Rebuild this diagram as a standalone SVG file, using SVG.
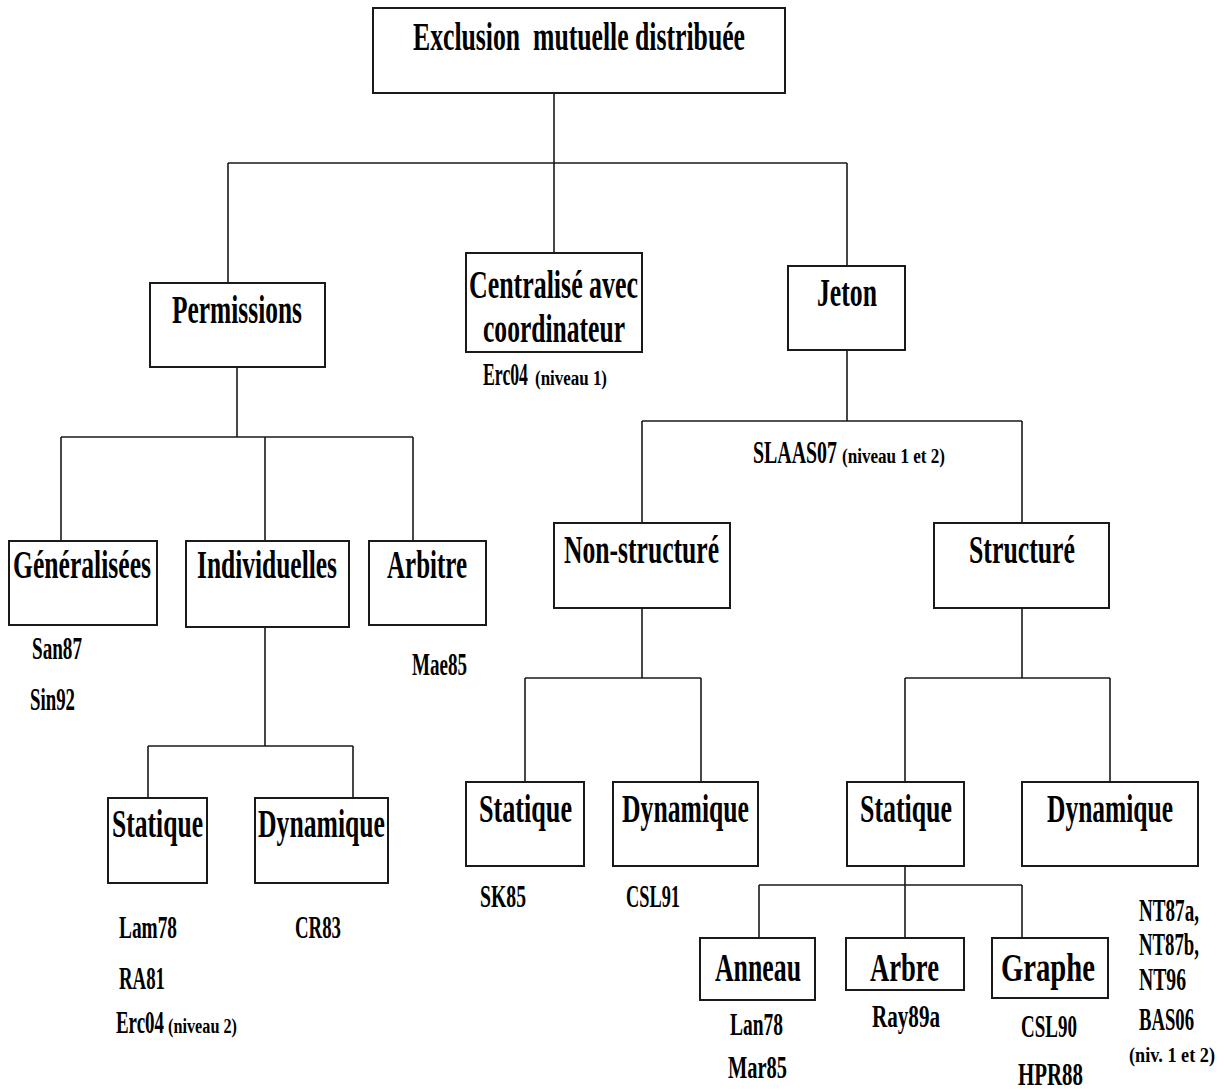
<svg xmlns="http://www.w3.org/2000/svg" width="1224" height="1090" viewBox="0 0 1224 1090">
<style>
.box{fill:#fff;stroke:#1a1a1a;stroke-width:2}
.ln{fill:none;stroke:#1a1a1a;stroke-width:1.6}
text{font-family:"Liberation Serif","Times New Roman",serif;font-weight:bold;fill:#000;white-space:pre}
.t{font-size:25.6px}
.r{font-size:19.3px}
.s{font-size:17px}
</style>
<rect width="1224" height="1090" fill="#fff"/>
<g id="connectors">
<path class="ln" d="M554,93V163M228,163H847M228,163V283M554,163V253M847,163V266"/>
<path class="ln" d="M237,367V437M61,437H413M61,437V541M265,437V541M413,437V541"/>
<path class="ln" d="M265,627V746M148,746H353M148,746V798M353,746V798"/>
<path class="ln" d="M847,350V421M642,421H1022M642,421V523M1022,421V523"/>
<path class="ln" d="M642,608V678M525,678H701M525,678V782M701,678V782"/>
<path class="ln" d="M1022,608V678M905,678H1110M905,678V782M1110,678V782"/>
<path class="ln" d="M905,866V938M759,885H1022M759,885V938M1022,885V938"/>
</g>
<g id="root"><rect class="box" x="373" y="8" width="412" height="85"/><text class="t" transform="translate(413,50) scale(1,1.53)" textLength="332" lengthAdjust="spacingAndGlyphs">Exclusion  mutuelle distribuée</text></g>
<g id="permissions"><rect class="box" x="150" y="283" width="175" height="84"/><text class="t" transform="translate(172,323) scale(1,1.53)" textLength="130" lengthAdjust="spacingAndGlyphs">Permissions</text></g>
<g id="centralise"><rect class="box" x="466" y="253" width="176" height="99"/><text class="t" transform="translate(469,298) scale(1,1.53)" textLength="169" lengthAdjust="spacingAndGlyphs">Centralisé avec</text><text class="t" transform="translate(483,342) scale(1,1.53)" textLength="142" lengthAdjust="spacingAndGlyphs">coordinateur</text>
<text class="r" transform="translate(483,385) scale(1,1.65)" textLength="45" lengthAdjust="spacingAndGlyphs">Erc04</text><text class="s" transform="translate(535,385) scale(1,1.25)" textLength="72" lengthAdjust="spacingAndGlyphs">(niveau 1)</text></g>
<g id="jeton"><rect class="box" x="788" y="266" width="117" height="84"/><text class="t" transform="translate(817,306) scale(1,1.53)" textLength="60" lengthAdjust="spacingAndGlyphs">Jeton</text>
<text class="r" transform="translate(753,463) scale(1,1.65)" textLength="84" lengthAdjust="spacingAndGlyphs">SLAAS07</text><text class="s" transform="translate(842,463) scale(1,1.25)" textLength="103" lengthAdjust="spacingAndGlyphs">(niveau 1 et 2)</text></g>
<g id="generalisees"><rect class="box" x="9" y="541" width="148" height="84"/><text class="t" transform="translate(13,578) scale(1,1.53)" textLength="138" lengthAdjust="spacingAndGlyphs">Généralisées</text>
<text class="r" transform="translate(32,659) scale(1,1.65)" textLength="50" lengthAdjust="spacingAndGlyphs">San87</text><text class="r" transform="translate(30,710) scale(1,1.65)" textLength="45" lengthAdjust="spacingAndGlyphs">Sin92</text></g>
<g id="individuelles"><rect class="box" x="186" y="541" width="163" height="86"/><text class="t" transform="translate(197,578) scale(1,1.53)" textLength="140" lengthAdjust="spacingAndGlyphs">Individuelles</text></g>
<g id="arbitre"><rect class="box" x="369" y="541" width="117" height="84"/><text class="t" transform="translate(387,578) scale(1,1.53)" textLength="80" lengthAdjust="spacingAndGlyphs">Arbitre</text>
<text class="r" transform="translate(412,675) scale(1,1.65)" textLength="55" lengthAdjust="spacingAndGlyphs">Mae85</text></g>
<g id="statique-ind"><rect class="box" x="108" y="798" width="99" height="85"/><text class="t" transform="translate(112,837) scale(1,1.53)" textLength="91" lengthAdjust="spacingAndGlyphs">Statique</text>
<text class="r" transform="translate(119,938) scale(1,1.65)" textLength="58" lengthAdjust="spacingAndGlyphs">Lam78</text><text class="r" transform="translate(119,989) scale(1,1.65)" textLength="46" lengthAdjust="spacingAndGlyphs">RA81</text>
<text class="r" transform="translate(116,1033) scale(1,1.65)" textLength="48" lengthAdjust="spacingAndGlyphs">Erc04</text><text class="s" transform="translate(168,1033) scale(1,1.25)" textLength="69" lengthAdjust="spacingAndGlyphs">(niveau 2)</text></g>
<g id="dynamique-ind"><rect class="box" x="255" y="798" width="133" height="85"/><text class="t" transform="translate(258,837) scale(1,1.53)" textLength="127" lengthAdjust="spacingAndGlyphs">Dynamique</text>
<text class="r" transform="translate(295,938) scale(1,1.65)" textLength="46" lengthAdjust="spacingAndGlyphs">CR83</text></g>
<g id="non-structure"><rect class="box" x="554" y="523" width="176" height="85"/><text class="t" transform="translate(564,563) scale(1,1.53)" textLength="155" lengthAdjust="spacingAndGlyphs">Non-structuré</text></g>
<g id="structure"><rect class="box" x="934" y="523" width="175" height="85"/><text class="t" transform="translate(969,563) scale(1,1.53)" textLength="106" lengthAdjust="spacingAndGlyphs">Structuré</text></g>
<g id="statique-ns"><rect class="box" x="466" y="782" width="118" height="84"/><text class="t" transform="translate(479,822) scale(1,1.53)" textLength="93" lengthAdjust="spacingAndGlyphs">Statique</text>
<text class="r" transform="translate(480,907) scale(1,1.65)" textLength="46" lengthAdjust="spacingAndGlyphs">SK85</text></g>
<g id="dynamique-ns"><rect class="box" x="613" y="782" width="145" height="84"/><text class="t" transform="translate(622,822) scale(1,1.53)" textLength="127" lengthAdjust="spacingAndGlyphs">Dynamique</text>
<text class="r" transform="translate(626,907) scale(1,1.65)" textLength="54" lengthAdjust="spacingAndGlyphs">CSL91</text></g>
<g id="statique-s"><rect class="box" x="847" y="782" width="117" height="84"/><text class="t" transform="translate(860,822) scale(1,1.53)" textLength="92" lengthAdjust="spacingAndGlyphs">Statique</text></g>
<g id="dynamique-s"><rect class="box" x="1022" y="782" width="176" height="84"/><text class="t" transform="translate(1047,822) scale(1,1.53)" textLength="126" lengthAdjust="spacingAndGlyphs">Dynamique</text>
<text class="r" transform="translate(1139,921) scale(1,1.65)" textLength="60" lengthAdjust="spacingAndGlyphs">NT87a,</text><text class="r" transform="translate(1139,955) scale(1,1.65)" textLength="60" lengthAdjust="spacingAndGlyphs">NT87b,</text>
<text class="r" transform="translate(1139,990) scale(1,1.65)" textLength="47" lengthAdjust="spacingAndGlyphs">NT96</text><text class="r" transform="translate(1139,1030) scale(1,1.65)" textLength="55" lengthAdjust="spacingAndGlyphs">BAS06</text>
<text class="s" transform="translate(1129,1062) scale(1,1.25)" textLength="86" lengthAdjust="spacingAndGlyphs">(niv. 1 et 2)</text></g>
<g id="anneau"><rect class="box" x="700" y="938" width="115" height="62"/><text class="t" transform="translate(715,981) scale(1,1.53)" textLength="86" lengthAdjust="spacingAndGlyphs">Anneau</text>
<text class="r" transform="translate(730,1035) scale(1,1.65)" textLength="53" lengthAdjust="spacingAndGlyphs">Lan78</text><text class="r" transform="translate(728,1078) scale(1,1.65)" textLength="59" lengthAdjust="spacingAndGlyphs">Mar85</text></g>
<g id="arbre"><rect class="box" x="846" y="938" width="118" height="52"/><text class="t" transform="translate(870,981) scale(1,1.53)" textLength="69" lengthAdjust="spacingAndGlyphs">Arbre</text>
<text class="r" transform="translate(872,1027) scale(1,1.65)" textLength="68" lengthAdjust="spacingAndGlyphs">Ray89a</text></g>
<g id="graphe"><rect class="box" x="992" y="938" width="116" height="60"/><text class="t" transform="translate(1001,981) scale(1,1.53)" textLength="94" lengthAdjust="spacingAndGlyphs">Graphe</text>
<text class="r" transform="translate(1021,1037) scale(1,1.65)" textLength="56" lengthAdjust="spacingAndGlyphs">CSL90</text><text class="r" transform="translate(1018,1085) scale(1,1.65)" textLength="65" lengthAdjust="spacingAndGlyphs">HPR88</text></g>
</svg>
